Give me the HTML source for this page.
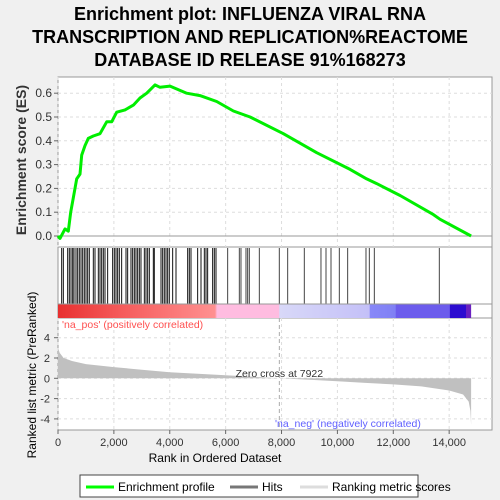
<!DOCTYPE html>
<html><head><meta charset="utf-8"><style>
body{margin:0;background:#f0f0f0;}
svg{display:block;font-family:"Liberation Sans",sans-serif;}
</style></head><body>
<svg id="c" width="500" height="500">
<rect width="500" height="500" fill="#f0f0f0"/>
<text x="250" y="20" text-anchor="middle" font-size="18" font-weight="bold">Enrichment plot: INFLUENZA VIRAL RNA</text>
<text x="250" y="43" text-anchor="middle" font-size="18" font-weight="bold">TRANSCRIPTION AND REPLICATION%REACTOME</text>
<text x="250" y="66" text-anchor="middle" font-size="18" font-weight="bold">DATABASE ID RELEASE 91%168273</text>
<defs>
<linearGradient id="cb" x1="0" x2="1">
<stop offset="0" stop-color="#e83030"/><stop offset="0.15" stop-color="#f55a5a"/><stop offset="0.38" stop-color="#ff9090"/>
<stop offset="0.385" stop-color="#ffbce0"/><stop offset="0.535" stop-color="#ffbce0"/>
<stop offset="0.536" stop-color="#d8d8f8"/><stop offset="0.754" stop-color="#c4c0f8"/>
<stop offset="0.755" stop-color="#8888f8"/><stop offset="0.817" stop-color="#8080f4"/>
<stop offset="0.818" stop-color="#6c5cec"/><stop offset="0.948" stop-color="#6c5cec"/>
<stop offset="0.949" stop-color="#2c0cd0"/><stop offset="0.987" stop-color="#2c0cd0"/>
<stop offset="0.988" stop-color="#6a20c0"/><stop offset="1" stop-color="#6a20c0"/>
</linearGradient>
</defs>
<g id="panels"></g>
<text x="215" y="462" text-anchor="middle" font-size="12">Rank in Ordered Dataset</text>
<text transform="translate(26,160) rotate(-90)" text-anchor="middle" font-size="14" font-weight="bold" fill="#333">Enrichment score (ES)</text>
<text transform="translate(36,375) rotate(-90)" text-anchor="middle" font-size="12">Ranked list metric (PreRanked)</text>
<text x="62" y="328" font-size="10.5" fill="#ff5050">'na_pos' (positively correlated)</text>
<text x="275" y="427" font-size="10.5" fill="#6060ff">'na_neg' (negatively correlated)</text>
<g>
<rect x="80" y="475" width="338" height="22" fill="#fff" stroke="#444"/>
<line x1="86" y1="487" x2="114" y2="487" stroke="#00ff00" stroke-width="3"/>
<text x="118" y="491" font-size="12">Enrichment profile</text>
<line x1="230" y1="487" x2="258" y2="487" stroke="#777" stroke-width="3"/>
<text x="262" y="491" font-size="12">Hits</text>
<line x1="300" y1="487" x2="328" y2="487" stroke="#ddd" stroke-width="3"/>
<text x="332" y="491" font-size="12">Ranking metric scores</text>
</g>
</svg>
<script>
const esRanks=[0,71,250,370,453,548,668,787,847,966,1085,1264,1503,1742,1921,2100,2398,2697,2935,3174,3472,3651,4010,4606,5084,5680,6277,6874,8067,9260,10454,11050,11408,12244,13437,13676,14786];
const esValues=[0,-0.01,0.03,0.02,0.1,0.16,0.24,0.26,0.34,0.38,0.41,0.42,0.43,0.48,0.48,0.52,0.53,0.55,0.58,0.6,0.635,0.625,0.63,0.6,0.59,0.565,0.525,0.5,0.43,0.35,0.28,0.24,0.22,0.17,0.09,0.07,0];
const hitRanks=[131,191,346,405,465,525,572,644,704,763,823,883,942,1002,1062,1121,1264,1324,1443,1503,1563,1622,1682,1777,1956,2016,2076,2135,2195,2278,2434,2493,2612,2672,2732,2791,2851,2911,2970,3090,3149,3209,3269,3412,3447,3686,3746,3805,3865,3925,3984,4104,4223,4641,4700,4760,4998,5118,5237,5297,5356,5535,5595,5655,6072,6490,6549,6728,6788,6848,7206,7921,8220,8816,9412,9592,9771,10069,10367,11023,11143,11322,13648];
const metricRanks=[0,60,200,500,1000,2000,3000,4000,5000,6000,7000,7922,9000,10000,11000,12000,13000,14000,14500,14700,14760,14786];
const metricValues=[3.0,2.5,2.0,1.7,1.4,1.1,0.85,0.6,0.45,0.3,0.15,0,-0.15,-0.3,-0.45,-0.6,-0.8,-1.2,-1.6,-2.3,-3.2,-4.6];
const xTicks=[0,2000,4000,6000,8000,10000,12000,14000];
const esTicks=[0,0.1,0.2,0.3,0.4,0.5,0.6];
const metricTicks=[-4,-2,0,2,4];
const zeroCross=7922;

const NS='http://www.w3.org/2000/svg';
const g=document.getElementById('panels');
const L=58,R=492;
const X=r=>L+r*0.02794;
const YE=v=>236-v*238;
const YM=v=>378.3-v*10.15;
function mk(t,a,p){const e=document.createElementNS(NS,t);for(const k in a)e.setAttribute(k,a[k]);(p||g).appendChild(e);return e;}
let p1=mk('rect',{x:L,y:77,width:R-L,height:170,fill:'#fff',stroke:'#999'});


let p2=mk('rect',{x:L,y:247,width:R-L,height:71,fill:'#fff',stroke:'#999'});


let p3=mk('rect',{x:L,y:318,width:R-L,height:112,fill:'#fff',stroke:'#999'});


xTicks.forEach(t=>{
 mk('line',{x1:X(t),x2:X(t),y1:77,y2:247,stroke:'#ddd','stroke-dasharray':'3,3'});
 mk('line',{x1:X(t),x2:X(t),y1:318,y2:430,stroke:'#ddd','stroke-dasharray':'3,3'});
 mk('line',{x1:X(t),x2:X(t),y1:430,y2:434,stroke:'#666'});
 const tx=mk('text',{x:X(t),y:446,'text-anchor':'middle','font-size':'11',fill:'#333'});tx.textContent=t.toLocaleString('en-US');
 
 
});
esTicks.forEach(t=>{
 mk('line',{x1:L,x2:R,y1:YE(t),y2:YE(t),stroke:'#ddd','stroke-dasharray':'3,3'});
 mk('line',{x1:L-4,x2:L,y1:YE(t),y2:YE(t),stroke:'#666'});
 const tx=mk('text',{x:L-6,y:YE(t)+4,'text-anchor':'end','font-size':'12',fill:'#333'});tx.textContent=t.toFixed(1);
 
 
});
mk('line',{x1:L,x2:R,y1:YE(0),y2:YE(0),stroke:'#999'});
metricTicks.forEach(t=>{
 mk('line',{x1:L,x2:R,y1:YM(t),y2:YM(t),stroke:'#ddd','stroke-dasharray':'3,3'});
 mk('line',{x1:L-4,x2:L,y1:YM(t),y2:YM(t),stroke:'#666'});
 const tx=mk('text',{x:L-8,y:YM(t)+4,'text-anchor':'end','font-size':'11',fill:'#333'});tx.textContent=t;
 
 
});
let d=esRanks.map((r,i)=>(i?'L':'M')+X(r).toFixed(1)+','+YE(esValues[i]).toFixed(1)).join('');
let es=mk('path',{d:d,fill:'none',stroke:'#00ee00','stroke-width':3,'stroke-linejoin':'round'});


hitRanks.forEach(r=>{
 let h=mk('line',{x1:X(r),x2:X(r),y1:248,y2:304,stroke:r<5800?'#111':'#444','stroke-width':1});
 
 
});
let cb=mk('rect',{x:L,y:304,width:X(14786)-L,height:14,fill:'url(#cb)'});


mk('line',{x1:L,x2:R,y1:304,y2:304,stroke:'#999'});
let md='M'+X(0)+','+YM(0)+metricRanks.map((r,i)=>'L'+X(r).toFixed(1)+','+YM(metricValues[i]).toFixed(1)).join('')+'L'+X(14786)+','+YM(0)+'Z';
let ma=mk('path',{d:md,fill:'#c0c0c0'});


mk('line',{x1:X(zeroCross),x2:X(zeroCross),y1:318,y2:430,stroke:'#aaa','stroke-dasharray':'4,3'});
let zt=mk('text',{x:X(zeroCross),y:377,'text-anchor':'middle','font-size':'10.5',fill:'#333'});zt.textContent='Zero cross at '+zeroCross;


</script>
</body></html>
